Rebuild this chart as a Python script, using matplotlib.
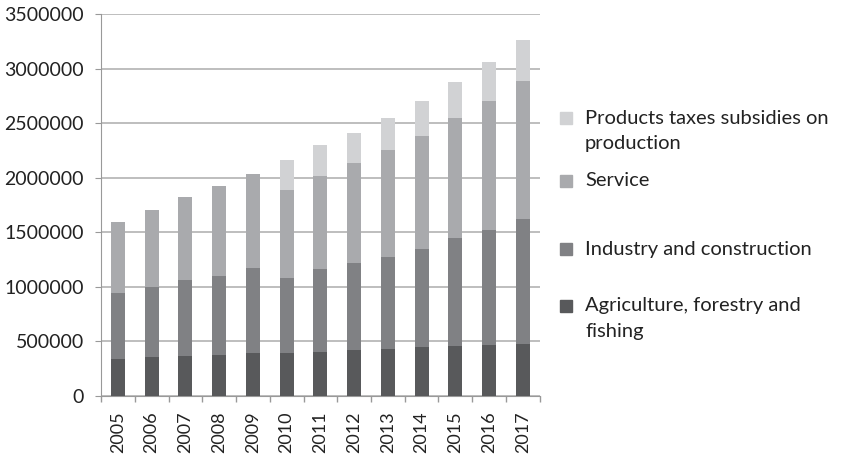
import numpy as np
import matplotlib
matplotlib.use("Agg")
import matplotlib.pyplot as plt
from matplotlib.patches import Rectangle

years = ['2005', '2006', '2007', '2008', '2009', '2010', '2011',
         '2012', '2013', '2014', '2015', '2016', '2017']

agriculture = [343000, 353000, 368000, 377000, 395000, 395000, 405000,
               423000, 432000, 451000, 460000, 469000, 478000]
industry = [604000, 649000, 699000, 727000, 776000, 690000, 754000,
            800000, 837000, 892000, 984000, 1048000, 1141000]
service = [644000, 699000, 754000, 818000, 862000, 800000, 855000,
           911000, 984000, 1039000, 1104000, 1187000, 1269000]
taxes = [0, 0, 0, 0, 0, 276000, 285000,
         276000, 295000, 322000, 331000, 359000, 377000]

labels = ['Agriculture, forestry and\nfishing', 'Industry and construction',
          'Service', 'Products taxes subsidies on\nproduction']
colors = ['#58595b', '#808184', '#a9aaad', '#d1d2d4']

fig = plt.figure(figsize=(8.42, 4.58), dpi=100)
ax = fig.add_axes([0.12, 0.1354, 0.521, 0.834])

x = np.arange(len(years))
bottom = np.zeros(len(years))
for vals, c in zip([agriculture, industry, service, taxes], colors):
    ax.bar(x, vals, width=0.42, bottom=bottom, color=c, zorder=3)
    bottom += np.array(vals)

ax.set_xlim(-0.5, len(years) - 0.5)
ax.set_ylim(0, 3500000)
ax.set_yticks(np.arange(0, 3500001, 500000))
ax.set_yticklabels([str(v) for v in range(0, 3500001, 500000)],
                   fontsize=14, family='Lato', color='#222222')
ax.yaxis.grid(True, color='#b3b3b3', linewidth=1.2, zorder=0)
ax.tick_params(axis='y', length=4.3, color='#999999', pad=8)

ax.set_xticks(x)
ax.set_xticklabels(years, rotation=90, fontsize=13, family='Lato',
                   color='#222222')
ax.set_xticks(np.arange(-0.5, len(years)), minor=True)
ax.tick_params(axis='x', which='major', length=0, pad=11)
ax.tick_params(axis='x', which='minor', length=4.3, color='#999999', width=1)

for s in ['top', 'right']:
    ax.spines[s].set_visible(False)
ax.spines['left'].set_color('#999999')
ax.spines['bottom'].set_color('#999999')

# legend drawn by hand, Excel-style spacing
W, H = 842, 458
legend_rows = [(306, labels[0]), (249, labels[1]), (181, labels[2]), (118, labels[3])]
for (yc, lab), c in zip(legend_rows, colors):
    fig.patches.append(Rectangle((560 / W, 1 - (yc + 6) / H), 12 / W, 12 / H,
                                 transform=fig.transFigure, color=c))
    if '\n' in lab:
        fig.text(585 / W, 1 - (yc - 8.5) / H, lab, fontsize=14.5, family='Lato',
                 color='#222222', va='top', ha='left', linespacing=1.6)
    else:
        fig.text(585 / W, 1 - yc / H, lab, fontsize=14.5, family='Lato',
                 color='#222222', va='center', ha='left')

fig.savefig('out.png', dpi=100)
